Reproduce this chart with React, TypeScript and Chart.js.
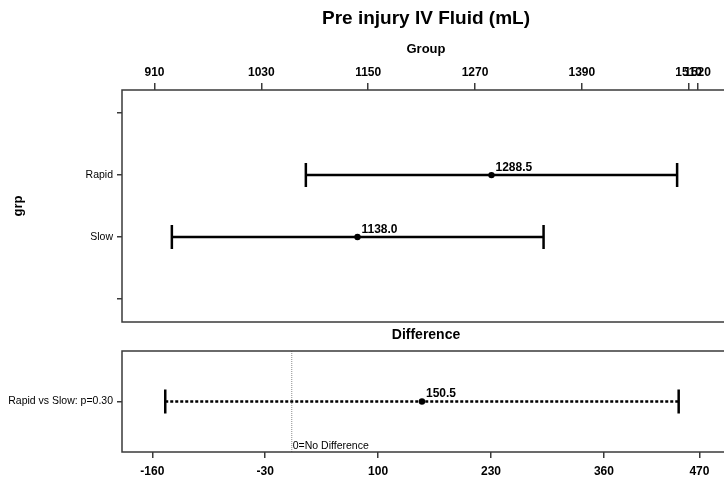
import React, { useEffect, useRef } from "react";
import { Chart, registerables } from "chart.js";

Chart.register(...registerables);

// ---------- data ----------
const groupAxisLabels = ["", "Rapid", "Slow", ""];
const groups = ["Rapid", "Slow"];
const groupMeans = [1288.5, 1138.0];
const groupLower = [1080, 929.5];
const groupUpper = [1497, 1347];
const groupTicks = [910, 1030, 1150, 1270, 1390, 1510, 1520];

const diffLabels = ["Rapid vs Slow: p=0.30"];
const diffMeans = [150.5];
const diffLower = [-145.1];
const diffUpper = [446.1];
const diffTicks = [-160, -30, 100, 230, 360, 470];

const TITLE = "Pre injury IV Fluid (mL)";
const GROUP_TITLE = "Group";
const Y_TITLE = "grp";
const DIFF_TITLE = "Difference";
const REF_LABEL = "0=No Difference";

const FONT = '"Liberation Sans", Arial, Helvetica, sans-serif';
const BOX = "#3a3a3a";

function drawBox(chart: any) {
  const { ctx, chartArea: a } = chart;
  ctx.save();
  ctx.strokeStyle = BOX;
  ctx.lineWidth = 1.5;
  ctx.setLineDash([]);
  ctx.strokeRect(a.left, a.top, a.right - a.left, a.bottom - a.top);
  ctx.restore();
}

function drawBar(ctx: any, x1: number, x2: number, y: number, dashed: boolean) {
  ctx.save();
  ctx.strokeStyle = "#000";
  ctx.lineWidth = 2.5;
  ctx.setLineDash(dashed ? [3, 2] : []);
  ctx.beginPath();
  ctx.moveTo(x1, y);
  ctx.lineTo(x2, y);
  ctx.stroke();
  ctx.setLineDash([]);
  ctx.beginPath();
  ctx.moveTo(x1, y - 12);
  ctx.lineTo(x1, y + 12);
  ctx.moveTo(x2, y - 12);
  ctx.lineTo(x2, y + 12);
  ctx.stroke();
  ctx.restore();
}

function drawValue(ctx: any, text: string, x: number, y: number) {
  ctx.save();
  ctx.fillStyle = "#000";
  ctx.font = `bold 12px ${FONT}`;
  ctx.textAlign = "left";
  ctx.textBaseline = "alphabetic";
  ctx.fillText(text, x + 4, y - 4.5);
  ctx.restore();
}

const topPlugin = {
  id: "topDecor",
  beforeDatasetsDraw(chart: any) {
    const xs = chart.scales.x;
    const ys = chart.scales.y;
    groups.forEach((g, i) => {
      const y = ys.getPixelForValue(groupAxisLabels.indexOf(g));
      drawBar(chart.ctx, xs.getPixelForValue(groupLower[i]), xs.getPixelForValue(groupUpper[i]), y, false);
    });
  },
  afterDatasetsDraw(chart: any) {
    const xs = chart.scales.x;
    const ys = chart.scales.y;
    groups.forEach((g, i) => {
      const y = ys.getPixelForValue(groupAxisLabels.indexOf(g));
      drawValue(chart.ctx, groupMeans[i].toFixed(1), xs.getPixelForValue(groupMeans[i]), y);
    });
  },
  afterDraw(chart: any) {
    drawBox(chart);
    const { ctx, chartArea: a } = chart;
    ctx.save();
    ctx.fillStyle = "#000";
    ctx.font = `bold 19px ${FONT}`;
    ctx.textAlign = "center";
    ctx.textBaseline = "alphabetic";
    ctx.fillText(TITLE, (a.left + a.right) / 2, 23.5);
    ctx.restore();
  },
};

const bottomPlugin = {
  id: "bottomDecor",
  beforeDatasetsDraw(chart: any) {
    const { ctx, chartArea: a } = chart;
    const xs = chart.scales.x;
    const ys = chart.scales.y;
    const x0 = xs.getPixelForValue(0);
    ctx.save();
    ctx.strokeStyle = "#8a8a8a";
    ctx.lineWidth = 1;
    ctx.setLineDash([1, 1]);
    ctx.beginPath();
    ctx.moveTo(x0 + 0.5, a.top);
    ctx.lineTo(x0 + 0.5, a.bottom);
    ctx.stroke();
    ctx.restore();
    ctx.save();
    ctx.fillStyle = "#000";
    ctx.font = `10.5px ${FONT}`;
    ctx.textAlign = "left";
    ctx.textBaseline = "alphabetic";
    ctx.fillText(REF_LABEL, x0 + 1.5, a.bottom - 3.2);
    ctx.restore();
    diffLabels.forEach((_, i) => {
      const y = ys.getPixelForValue(i);
      drawBar(ctx, xs.getPixelForValue(diffLower[i]), xs.getPixelForValue(diffUpper[i]), y, true);
    });
  },
  afterDatasetsDraw(chart: any) {
    const xs = chart.scales.x;
    const ys = chart.scales.y;
    diffLabels.forEach((_, i) => {
      drawValue(chart.ctx, diffMeans[i].toFixed(1), xs.getPixelForValue(diffMeans[i]), ys.getPixelForValue(i));
    });
  },
  afterDraw(chart: any) {
    drawBox(chart);
    const { ctx, chartArea: a } = chart;
    ctx.save();
    ctx.fillStyle = "#000";
    ctx.font = `bold 14px ${FONT}`;
    ctx.textAlign = "center";
    ctx.textBaseline = "alphabetic";
    ctx.fillText(DIFF_TITLE, (a.left + a.right) / 2, 13.3);
    ctx.restore();
  },
};

const tickFont = { family: FONT, size: 12, weight: "bold" as const };
const catFont = { family: FONT, size: 10.5, weight: "normal" as const };

function fixWidth(w: number) {
  return (s: any) => {
    s.width = w;
    s.paddingTop = 0;
    s.paddingBottom = 0;
  };
}
function fixHeight(h: number) {
  return (s: any) => {
    s.height = h;
    s.paddingLeft = 0;
    s.paddingRight = 0;
  };
}

export default function App() {
  const topRef = useRef<HTMLCanvasElement>(null);
  const botRef = useRef<HTMLCanvasElement>(null);

  useEffect(() => {
    const topChart = new Chart(topRef.current as HTMLCanvasElement, {
      type: "scatter",
      data: {
        datasets: [
          {
            data: groups.map((g, i) => ({ x: groupMeans[i], y: groupAxisLabels.indexOf(g) })),
            pointRadius: 3.2,
            pointBackgroundColor: "#000",
            pointBorderColor: "#000",
            pointBorderWidth: 0,
            showLine: false,
          },
        ],
      },
      options: {
        responsive: false,
        maintainAspectRatio: false,
        animation: false,
        devicePixelRatio: 1,
        events: [],
        layout: { padding: { top: 0, left: 0, right: 10, bottom: 3.5 } },
        plugins: { legend: { display: false }, tooltip: { enabled: false }, title: { display: false } },
        scales: {
          x: {
            type: "linear",
            position: "top",
            min: 873.5,
            max: 1556.4,
            afterBuildTicks: (s: any) => {
              s.ticks = groupTicks.map((v) => ({ value: v }));
            },
            afterFit: fixHeight(90),
            ticks: {
              autoSkip: false,
              maxRotation: 0,
              minRotation: 0,
              color: "#000",
              font: tickFont,
              padding: 3,
              callback: (v: any) => String(v),
            },
            grid: { drawOnChartArea: false, drawTicks: true, tickLength: 7, color: BOX, lineWidth: 1.5 },
            border: { display: false },
            title: {
              display: true,
              text: GROUP_TITLE,
              color: "#000",
              font: { family: FONT, size: 13, weight: "bold" },
              padding: { top: 41.4, bottom: 0 },
            },
          },
          y: {
            type: "linear",
            reverse: true,
            min: -0.374,
            max: 3.372,
            afterBuildTicks: (s: any) => {
              s.ticks = groupAxisLabels.map((_, i) => ({ value: i }));
            },
            afterFit: fixWidth(122),
            ticks: {
              autoSkip: false,
              color: "#000",
              font: catFont,
              padding: 4,
              callback: (v: any) => groupAxisLabels[v] ?? "",
            },
            grid: { drawOnChartArea: false, drawTicks: true, tickLength: 5, color: BOX, lineWidth: 1.5 },
            border: { display: false },
            title: {
              display: true,
              text: Y_TITLE,
              color: "#000",
              font: { family: FONT, size: 13, weight: "bold" },
              padding: { top: 10.5, bottom: 0 },
            },
          },
        },
      },
      plugins: [topPlugin],
    } as any);

    const botChart = new Chart(botRef.current as HTMLCanvasElement, {
      type: "scatter",
      data: {
        datasets: [
          {
            data: diffLabels.map((_, i) => ({ x: diffMeans[i], y: i })),
            pointRadius: 3.2,
            pointBackgroundColor: "#000",
            pointBorderColor: "#000",
            pointBorderWidth: 0,
            showLine: false,
          },
        ],
      },
      options: {
        responsive: false,
        maintainAspectRatio: false,
        animation: false,
        devicePixelRatio: 1,
        events: [],
        layout: { padding: { top: 25, left: 0, right: 10, bottom: 0 } },
        plugins: { legend: { display: false }, tooltip: { enabled: false }, title: { display: false } },
        scales: {
          x: {
            type: "linear",
            position: "bottom",
            min: -194.9,
            max: 505.2,
            afterBuildTicks: (s: any) => {
              s.ticks = diffTicks.map((v) => ({ value: v }));
            },
            afterFit: fixHeight(26),
            ticks: {
              autoSkip: false,
              maxRotation: 0,
              minRotation: 0,
              color: "#000",
              font: tickFont,
              padding: 6,
              callback: (v: any) => String(v),
            },
            grid: { drawOnChartArea: false, drawTicks: true, tickLength: 6, color: BOX, lineWidth: 1.5 },
            border: { display: false },
          },
          y: {
            type: "linear",
            reverse: true,
            min: -1,
            max: 1,
            afterBuildTicks: (s: any) => {
              s.ticks = diffLabels.map((_, i) => ({ value: i }));
            },
            afterFit: fixWidth(122),
            ticks: {
              autoSkip: false,
              color: "#000",
              font: catFont,
              padding: 4,
              callback: (v: any) => diffLabels[v] ?? "",
            },
            grid: { drawOnChartArea: false, drawTicks: true, tickLength: 5, color: BOX, lineWidth: 1.5 },
            border: { display: false },
          },
        },
      },
      plugins: [bottomPlugin],
    } as any);

    return () => {
      topChart.destroy();
      botChart.destroy();
    };
  }, []);

  return (
    <div
      style={{
        position: "fixed",
        left: 0,
        top: 0,
        width: 724,
        height: 478,
        overflow: "hidden",
        background: "#fff",
      }}
    >
      <canvas
        ref={topRef}
        width={740}
        height={326}
        style={{ position: "absolute", left: 0, top: 0, width: 740, height: 326 }}
      />
      <canvas
        ref={botRef}
        width={740}
        height={152}
        style={{ position: "absolute", left: 0, top: 326, width: 740, height: 152 }}
      />
    </div>
  );
}
